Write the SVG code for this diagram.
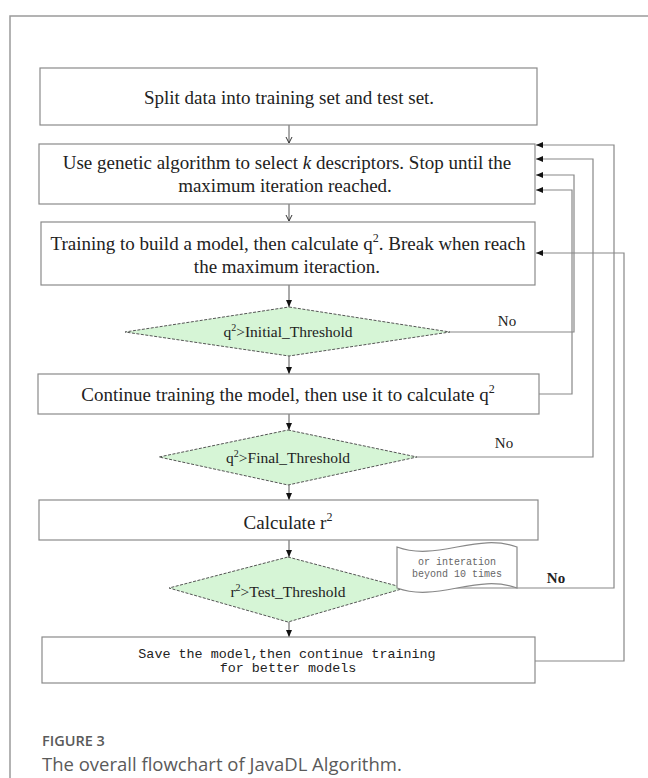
<svg xmlns="http://www.w3.org/2000/svg" width="648" height="778" viewBox="0 0 648 778">
<style>
.box{fill:#fff;stroke:#8a8a8a;stroke-width:1.2}
.dia{fill:#d6f5d6;stroke:#555;stroke-width:1;stroke-dasharray:3 1.5}
.t{font-family:"Liberation Serif",serif;fill:#222;text-anchor:middle}
.m{font-family:"Liberation Mono",monospace;text-anchor:middle}
.ln{fill:none;stroke:#888;stroke-width:1.2}
.ar{fill:none;stroke:#555;stroke-width:1}
.no{font-family:"Liberation Serif",serif;fill:#222;text-anchor:middle;font-size:15px}
.cap{font-family:"Open Sans","Lato",sans-serif;fill:#5a5a5a}
</style>
<defs>
<marker id="ah" markerWidth="8" markerHeight="8" refX="7" refY="4" orient="auto" markerUnits="userSpaceOnUse">
<path d="M0,1 L7,4 L0,7 Z" fill="#111"/>
</marker>
<marker id="ao" markerWidth="8" markerHeight="8" refX="6" refY="4" orient="auto" markerUnits="userSpaceOnUse">
<path d="M0,1 L6,4 L0,7" fill="none" stroke="#333" stroke-width="1"/>
</marker>
</defs>
<rect x="10" y="16" width="700" height="800" fill="none" stroke="#9a9a9a" stroke-width="1.5"/>

<g id="connectors">
<line class="ar" x1="289" y1="125" x2="289" y2="143" marker-end="url(#ao)"/>
<line class="ar" x1="289" y1="204" x2="289" y2="221" marker-end="url(#ao)"/>
<line class="ar" x1="289" y1="285" x2="289" y2="307" marker-end="url(#ah)"/>
<line class="ar" x1="289" y1="356" x2="289" y2="374" marker-end="url(#ah)"/>
<line class="ar" x1="289" y1="414" x2="289" y2="430" marker-end="url(#ah)"/>
<line class="ar" x1="289" y1="485" x2="289" y2="500" marker-end="url(#ah)"/>
<line class="ar" x1="289" y1="540" x2="289" y2="557" marker-end="url(#ah)"/>
<line class="ar" x1="289" y1="622" x2="289" y2="637" marker-end="url(#ah)"/>
<polyline class="ln" points="450,332 574,332 574,175 536,175" marker-end="url(#ah)"/>
<polyline class="ln" points="539,394 572,394 572,190 536,190" marker-end="url(#ah)"/>
<polyline class="ln" points="417,457 593,457 593,159 536,159" marker-end="url(#ah)"/>
<polyline class="ln" points="405,588 614,588 614,145 536,145" marker-end="url(#ah)"/>
<polyline class="ln" points="535,661 624,661 624,253 536,253" marker-end="url(#ah)"/>
<text class="no" x="507" y="326">No</text>
<text class="no" x="504" y="448">No</text>
<text class="no" x="556" y="583" font-size="16" font-weight="bold">No</text>
</g>

<g id="n1">
<rect class="box" x="40" y="68" width="497" height="57"/>
<text class="t" x="289" y="104" font-size="19">Split data into training set and test set.</text>
</g>
<g id="n2">
<rect class="box" x="39" y="144" width="496" height="60"/>
<text class="t" x="287" y="169" font-size="19">Use genetic algorithm to select <tspan font-style="italic">k</tspan> descriptors. Stop until the</text>
<text class="t" x="285" y="192" font-size="19">maximum iteration reached.</text>
</g>
<g id="n3">
<rect class="box" x="41" y="222" width="494" height="63"/>
<text class="t" x="288" y="250" font-size="19">Training to build a model, then calculate q<tspan font-size="12" dy="-8">2</tspan><tspan dy="8">. Break when reach</tspan></text>
<text class="t" x="287" y="273" font-size="19">the maximum iteraction.</text>
</g>
<g id="n4">
<polygon class="dia" points="289,307 450,332 289,356 125,332"/>
<text class="t" x="288" y="337" font-size="15.5">q<tspan font-size="10" dy="-6">2</tspan><tspan dy="6">&gt;Initial_Threshold</tspan></text>
</g>
<g id="n5">
<rect class="box" x="38" y="374" width="501" height="40"/>
<text class="t" x="288" y="401" font-size="19">Continue training the model, then use it to calculate q<tspan font-size="12" dy="-8">2</tspan></text>
</g>
<g id="n6">
<polygon class="dia" points="288,430 417,457 288,485 159,457"/>
<text class="t" x="288" y="463" font-size="15.5">q<tspan font-size="10" dy="-6">2</tspan><tspan dy="6">&gt;Final_Threshold</tspan></text>
</g>
<g id="n7">
<rect class="box" x="39" y="500" width="499" height="40"/>
<text class="t" x="288" y="529" font-size="19">Calculate r<tspan font-size="12" dy="-8">2</tspan></text>
</g>
<g id="n8">
<polygon class="dia" points="288,557 405,588 288,622 169,588"/>
<text class="t" x="288" y="597" font-size="15.5">r<tspan font-size="10" dy="-6">2</tspan><tspan dy="6">&gt;Test_Threshold</tspan></text>
</g>
<g id="n9">
<path d="M397,547 C437,562 477,532 517,547 L517,588 C477,573 437,603 397,588 Z" fill="#fff" stroke="#888" stroke-width="1.2"/>
<text class="m" x="457" y="565" font-size="10" fill="#666">or interation</text>
<text class="m" x="457" y="577" font-size="10" fill="#666">beyond 10 times</text>
</g>
<g id="n10">
<rect class="box" x="42" y="637" width="493" height="46"/>
<text class="m" x="287" y="658" font-size="13.4" fill="#222">Save the model,then continue training</text>
<text class="m" x="288" y="672" font-size="13.4" fill="#222">for better models</text>
</g>

<text class="cap" x="42" y="746" font-size="14.5" font-weight="600">FIGURE 3</text>
<text class="cap" x="42" y="771" font-size="18.5">The overall flowchart of JavaDL Algorithm.</text>
</svg>
